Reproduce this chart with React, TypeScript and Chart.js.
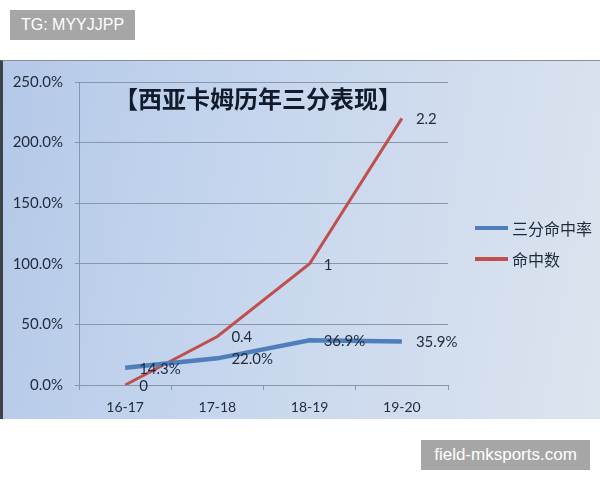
import Chart from 'chart.js/auto';
import { useEffect, useRef } from 'react';

const seasons = ['16-17', '17-18', '18-19', '19-20'];
const threePtPct = [14.3, 22.0, 36.9, 35.9];
const threePtMade = [0, 0.4, 1, 2.2];
const yTicks = [0, 50, 100, 150, 200, 250];
const seriesNames = ['三分命中率', '命中数'];
const seriesColors = ['#4f7fbb', '#c0504d'];

const labelFont = 'Lato, "Liberation Sans", sans-serif';
const cjkFont = '"Noto Sans CJK SC", sans-serif';
const textColor = '#1f2b3d';

// value labels to the right of every point
const pointLabels = {
  id: 'pointLabels',
  afterDatasetsDraw(chart: any) {
    const ctx = chart.ctx;
    const texts = [
      threePtPct.map((v) => v.toFixed(1) + '%'),
      threePtMade.map((v) => String(v)),
    ];
    ctx.save();
    ctx.font = '15px ' + labelFont;
    ctx.fillStyle = textColor;
    ctx.textAlign = 'left';
    ctx.textBaseline = 'middle';
    chart.data.datasets.forEach((_: any, di: number) => {
      chart.getDatasetMeta(di).data.forEach((pt: any, i: number) => {
        ctx.fillText(texts[di][i], pt.x + 14, pt.y + 1);
      });
    });
    ctx.restore();
  },
};

function LineChart() {
  const canvasRef = useRef<HTMLCanvasElement>(null);

  useEffect(() => {
    if (!canvasRef.current) return;

    const chart = new Chart(canvasRef.current, {
      type: 'line',
      data: {
        labels: seasons,
        datasets: [
          {
            label: seriesNames[0],
            data: threePtPct,
            borderColor: seriesColors[0],
            backgroundColor: seriesColors[0],
            borderWidth: 4.5,
            pointRadius: 0,
            tension: 0,
          },
          {
            label: seriesNames[1],
            data: threePtMade.map((v) => v * 100),
            borderColor: seriesColors[1],
            backgroundColor: seriesColors[1],
            borderWidth: 3,
            pointRadius: 0,
            tension: 0,
          },
        ],
      },
      options: {
        animation: false,
        responsive: false,
        layout: { padding: { top: 19, right: 152, left: 0, bottom: 0 } },
        plugins: {
          legend: { display: false },
          tooltip: { enabled: false },
        },
        scales: {
          x: {
            offset: true,
            afterFit: (s: any) => {
              s.height = 34;
            },
            grid: {
              offset: true,
              drawOnChartArea: false,
              drawTicks: true,
              tickLength: 5,
              color: '#8796aa',
            },
            border: { color: '#8796aa' },
            ticks: {
              padding: 9,
              color: textColor,
              font: { family: labelFont, size: 14 },
            },
          },
          y: {
            min: yTicks[0],
            max: yTicks[yTicks.length - 1],
            afterFit: (s: any) => {
              s.width = 79;
            },
            afterBuildTicks: (s: any) => {
              s.ticks = yTicks.map((v) => ({ value: v }));
            },
            grid: {
              color: '#8796aa',
              tickLength: 4,
            },
            border: { color: '#8796aa' },
            ticks: {
              padding: 12,
              color: textColor,
              font: { family: labelFont, size: 15 },
              callback: (v: any) => Number(v).toFixed(1) + '%',
            },
          },
        },
      },
      plugins: [pointLabels],
    });

    return () => chart.destroy();
  }, []);

  return <canvas ref={canvasRef} width={600} height={358}></canvas>;
}

export default function App() {
  return (
    <div
      style={{
        position: 'fixed',
        left: 0,
        top: 0,
        width: 600,
        height: 480,
        background: '#ffffff',
        overflow: 'hidden',
      }}
    >
      <div
        style={{
          position: 'absolute',
          left: 10,
          top: 10,
          width: 125,
          height: 30,
          background: '#a6a6a6',
          color: '#ffffff',
          font: '16px "Liberation Sans", sans-serif',
          lineHeight: '30px',
          textAlign: 'center',
        }}
      >
        TG: MYYJJPP
      </div>

      <div
        style={{
          position: 'absolute',
          left: 0,
          top: 60,
          width: 600,
          height: 359,
          boxSizing: 'border-box',
          borderTop: '1px solid #8c8f96',
          borderLeft: '3px solid #3d4148',
          background: 'linear-gradient(100deg, #b4c9e8 0%, #c8d7ee 45%, #dce4ee 100%)',
        }}
      >
        <div style={{ position: 'absolute', left: -3, top: 0 }}>
          <LineChart />
        </div>
        <div
          style={{
            position: 'absolute',
            left: 0,
            top: 20,
            width: 510,
            textAlign: 'center',
            font: 'bold 24px ' + cjkFont,
            lineHeight: '34px',
            color: '#121b2c',
            whiteSpace: 'nowrap',
          }}
        >
          【西亚卡姆历年三分表现】
        </div>
        {seriesNames.map((name, i) => (
          <div
            key={name}
            style={{
              position: 'absolute',
              left: 472,
              top: 155 + i * 31,
              height: 24,
              display: 'flex',
              alignItems: 'center',
              font: '16px ' + cjkFont,
              color: textColor,
              whiteSpace: 'nowrap',
            }}
          >
            <span
              style={{
                display: 'inline-block',
                width: 33,
                height: 4,
                background: seriesColors[i],
                marginRight: 4,
              }}
            ></span>
            {name}
          </div>
        ))}
      </div>

      <div
        style={{
          position: 'absolute',
          left: 421,
          top: 440,
          width: 169,
          height: 30,
          background: '#a6a6a6',
          color: '#ffffff',
          font: '17px "Liberation Sans", sans-serif',
          lineHeight: '30px',
          textAlign: 'center',
        }}
      >
        field-mksports.com
      </div>
    </div>
  );
}
